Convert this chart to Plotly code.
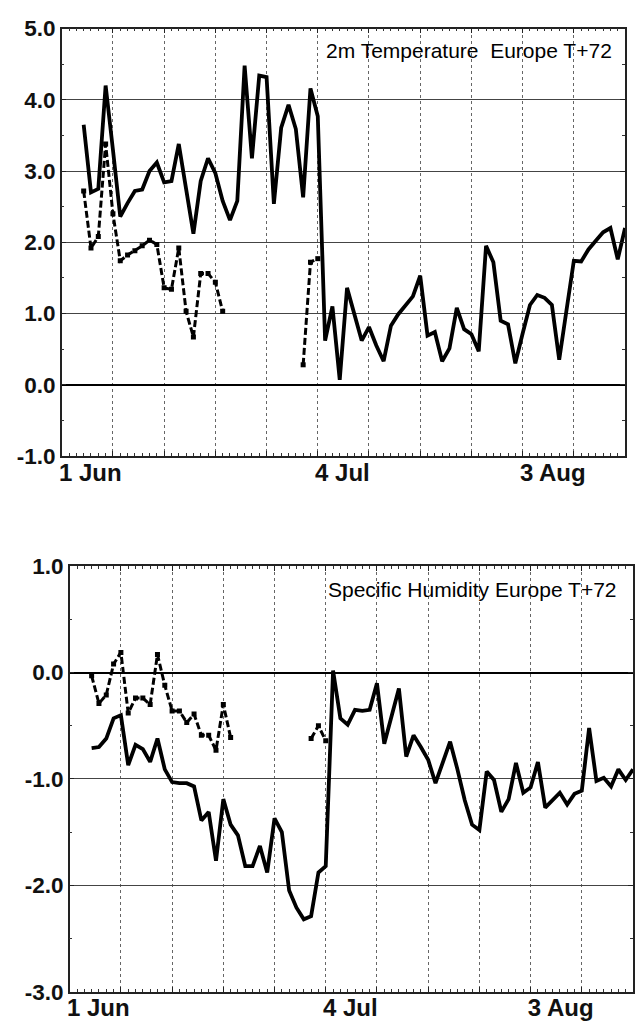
import plotly.graph_objects as go

# ---------------- data ----------------
# day index counted from 1 Jun (day 0)
temp_solid_days = list(range(3, 78))
temp_solid = [3.65, 2.70, 2.75, 4.20, 3.30, 2.36, 2.55, 2.72, 2.74, 3.00,
              3.12, 2.84, 2.86, 3.38, 2.75, 2.12, 2.86, 3.18, 2.97, 2.58,
              2.31, 2.58, 4.48, 3.18, 4.34, 4.32, 2.54, 3.61, 3.93, 3.59,
              2.63, 4.16, 3.77, 0.62, 1.10, 0.07, 1.36, 0.99, 0.62, 0.81,
              0.55, 0.33, 0.83, 0.99, 1.12, 1.24, 1.53, 0.69, 0.74, 0.33,
              0.51, 1.08, 0.78, 0.71, 0.47, 1.95, 1.72, 0.90, 0.85, 0.30,
              0.72, 1.12, 1.26, 1.22, 1.12, 0.35, 1.05, 1.74, 1.73, 1.90,
              2.02, 2.14, 2.20, 1.76, 2.20]

temp_dash_days_a = list(range(3, 23))
temp_dash_a = [2.72, 1.92, 2.08, 3.38, 2.40, 1.74, 1.82, 1.88, 1.95, 2.03,
               1.97, 1.36, 1.34, 1.92, 1.03, 0.67, 1.56, 1.56, 1.44, 1.03]
temp_dash_days_b = [33, 34, 35]
temp_dash_b = [0.28, 1.72, 1.77]

hum_solid_days = list(range(3, 78))
hum_solid = [-0.71, -0.70, -0.62, -0.43, -0.40, -0.87, -0.68, -0.72, -0.84, -0.62,
             -0.91, -1.03, -1.04, -1.04, -1.07, -1.39, -1.31, -1.77, -1.19, -1.43,
             -1.53, -1.82, -1.82, -1.63, -1.88, -1.37, -1.50, -2.05, -2.21, -2.32,
             -2.29, -1.88, -1.82, 0.02, -0.43, -0.49, -0.35, -0.36, -0.35, -0.10,
             -0.67, -0.41, -0.15, -0.79, -0.59, -0.70, -0.82, -1.04, -0.85, -0.65,
             -0.91, -1.20, -1.43, -1.48, -0.93, -1.01, -1.31, -1.19, -0.85, -1.13,
             -1.08, -0.84, -1.27, -1.20, -1.13, -1.24, -1.14, -1.11, -0.52, -1.02,
             -0.99, -1.07, -0.91, -1.01, -0.91]

hum_dash_days_a = list(range(3, 23))
hum_dash_a = [-0.03, -0.29, -0.21, 0.08, 0.19, -0.38, -0.24, -0.24, -0.30, 0.17,
              -0.12, -0.36, -0.36, -0.47, -0.39, -0.59, -0.59, -0.73, -0.30, -0.61]
hum_dash_days_b = [33, 34, 35]
hum_dash_b = [-0.62, -0.50, -0.64]

x_tick_days = [0, 7, 14, 21, 28, 35, 42, 49, 56, 63, 70, 77]
x_tick_labels = ["1 Jun", "", "", "", "", "4 Jul", "", "", "", "3 Aug", "", ""]

temp_ticks = [-1, 0, 1, 2, 3, 4, 5]
temp_tick_labels = ["-1.0", "0.0", "1.0", "2.0", "3.0", "4.0", "5.0"]
hum_ticks = [-3, -2, -1, 0, 1]
hum_tick_labels = ["-3.0", "-2.0", "-1.0", "0.0", "1.0"]

temp_title = "2m Temperature  Europe T+72"
hum_title = "Specific Humidity Europe T+72"

# ---------------- figure ----------------
W, H = 637, 1031
FONT = "Liberation Sans, Arial, sans-serif"

fig = go.Figure()

def add_panel(xa, ya, sd, sv, da_d, da_v, db_d, db_v):
    fig.add_trace(go.Scatter(
        x=da_d + [None] + db_d, y=da_v + [None] + db_v,
        xaxis=xa, yaxis=ya, mode="lines+markers",
        line=dict(color="black", width=3, dash="7px,3px"),
        marker=dict(symbol="square", size=5, color="black"),
        showlegend=False, hoverinfo="skip"))
    fig.add_trace(go.Scatter(
        x=sd, y=sv, xaxis=xa, yaxis=ya, mode="lines",
        line=dict(color="black", width=3.8),
        showlegend=False, hoverinfo="skip"))

add_panel("x", "y", temp_solid_days, temp_solid,
          temp_dash_days_a, temp_dash_a, temp_dash_days_b, temp_dash_b)
add_panel("x2", "y2", hum_solid_days, hum_solid,
          hum_dash_days_a, hum_dash_a, hum_dash_days_b, hum_dash_b)


def xcfg(domain, anchor):
    return dict(
        domain=domain, anchor=anchor, range=[0, 77],
        tickmode="array", tickvals=x_tick_days, ticktext=x_tick_labels,
        ticks="inside", ticklen=5, tickcolor="#222", tickwidth=1,
        showline=True, linecolor="#222", linewidth=1.5, mirror="allticks",
        showgrid=True, gridcolor="#666", griddash="dot", gridwidth=1,
        zeroline=False, ticklabelposition="outside right",
        ticklabelshift=-4, ticklabelstandoff=-6,
        tickfont=dict(family=FONT, size=24, weight="bold", color="#111"),
        minor=dict(tick0=0, dtick=1, ticks="inside", ticklen=3,
                   tickcolor="#333", showgrid=False),
    )


def ycfg(domain, anchor, rng, tv, tt):
    return dict(
        domain=domain, anchor=anchor, range=rng,
        tickmode="array", tickvals=tv, ticktext=tt,
        ticks="inside", ticklen=5, tickcolor="#222", tickwidth=1,
        showline=True, linecolor="#222", linewidth=1.5, mirror="allticks",
        showgrid=True, gridcolor="#444", gridwidth=1.2,
        zeroline=True, zerolinecolor="black", zerolinewidth=2,
        tickfont=dict(family=FONT, size=22.5, weight="bold", color="#111"),
        minor=dict(dtick=0.5, ticks="inside", ticklen=3,
                   tickcolor="#333", showgrid=False),
    )


fig.update_layout(
    width=W, height=H,
    margin=dict(l=0, r=0, t=0, b=0),
    paper_bgcolor="white", plot_bgcolor="white",
    xaxis=xcfg([59 / W, 625 / W], "y"),
    yaxis=ycfg([1 - 455 / H, 1 - 17 / H], "x", [-1, 5], temp_ticks, temp_tick_labels),
    xaxis2=xcfg([67 / W, 633 / W], "y2"),
    yaxis2=ycfg([1 - 1004 / H, 1 - 568 / H], "x2", [-3, 1], hum_ticks, hum_tick_labels),
    annotations=[
        dict(text=temp_title, xref="x domain", yref="y domain", x=1, y=0.9498,
             xanchor="right", yanchor="middle", xshift=-11, showarrow=False,
             font=dict(family=FONT, size=21, color="black")),
        dict(text=hum_title, xref="x2 domain", yref="y2 domain", x=1, y=0.945,
             xanchor="right", yanchor="middle", xshift=-14, showarrow=False,
             font=dict(family=FONT, size=21, color="black")),
    ],
)

fig.write_html("out.html")
